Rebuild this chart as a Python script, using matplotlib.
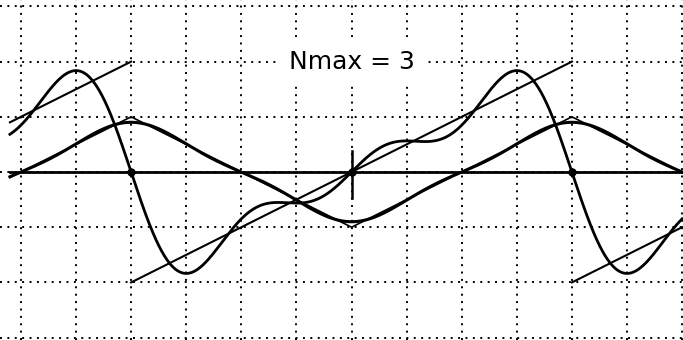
import numpy as np
import matplotlib.pyplot as plt

# chart values (x in radians, period 2*pi)
nmax = 3
x_min, x_max = -1.55 * np.pi, 1.5 * np.pi
jumps = [-np.pi, 0.0, np.pi]          # marked points on the axis
grid_cols = np.arange(-6, 7) * np.pi / 4
grid_rows = np.arange(-3, 4) * np.pi / 2
title = 'Nmax = 3'

x = np.linspace(x_min, x_max, 2000)

def wrap(v):
    return (v + np.pi) % (2 * np.pi) - np.pi

# sawtooth f(x) = x and its partial sum
saw_s = np.zeros_like(x)
for n in range(1, nmax + 1):
    saw_s += 2 * (-1) ** (n + 1) * np.sin(n * x) / n

# triangle |x| - pi/2 and its partial sum (odd terms up to nmax)
tri = np.abs(wrap(x)) - np.pi / 2
tri_s = np.zeros_like(x)
for n in range(1, nmax + 1, 2):
    tri_s += -4 / np.pi * np.cos(n * x) / n ** 2

fig = plt.figure(figsize=(6.83, 3.40), dpi=100)
ax = fig.add_axes([0, 0, 1, 1])
ax.set_xlim(-6.38 * np.pi / 4, 6.016 * np.pi / 4)
ax.set_ylim(-3.043 * np.pi / 2, 3.116 * np.pi / 2)
ax.axis('off')

for c in grid_cols:
    ax.axvline(c, color='black', lw=1.4, ls=(0, (1, 2.8)), zorder=1)
for r in grid_rows:
    ax.axhline(r, color='black', lw=1.4, ls=(0, (1, 2.8)), zorder=1)

# axis
ax.plot([x_min, x_max], [0, 0], color='black', lw=2, zorder=3)
ax.plot([0, 0], [-0.75, 0.6], color='black', lw=1.8, zorder=3)

# sawtooth pieces (no vertical jumps)
for lo, hi, shift in [(x_min, -np.pi, 2 * np.pi), (-np.pi, np.pi, 0), (np.pi, x_max, -2 * np.pi)]:
    xs = np.linspace(lo, hi, 50)
    ax.plot(xs, xs + shift, color='black', lw=1.5, zorder=3)

ax.plot(x, saw_s, color='black', lw=2, zorder=4)
ax.plot(x, tri, color='black', lw=1.2, zorder=4)
ax.plot(x, tri_s, color='black', lw=2.2, zorder=4)
ax.plot(jumps, [0] * len(jumps), 'o', color='black', ms=5, zorder=5)

ax.text(0, np.pi, title, fontsize=18, ha='center', va='center', zorder=6,
        bbox=dict(facecolor='white', edgecolor='none', pad=7))

fig.savefig('out.png', dpi=100)
